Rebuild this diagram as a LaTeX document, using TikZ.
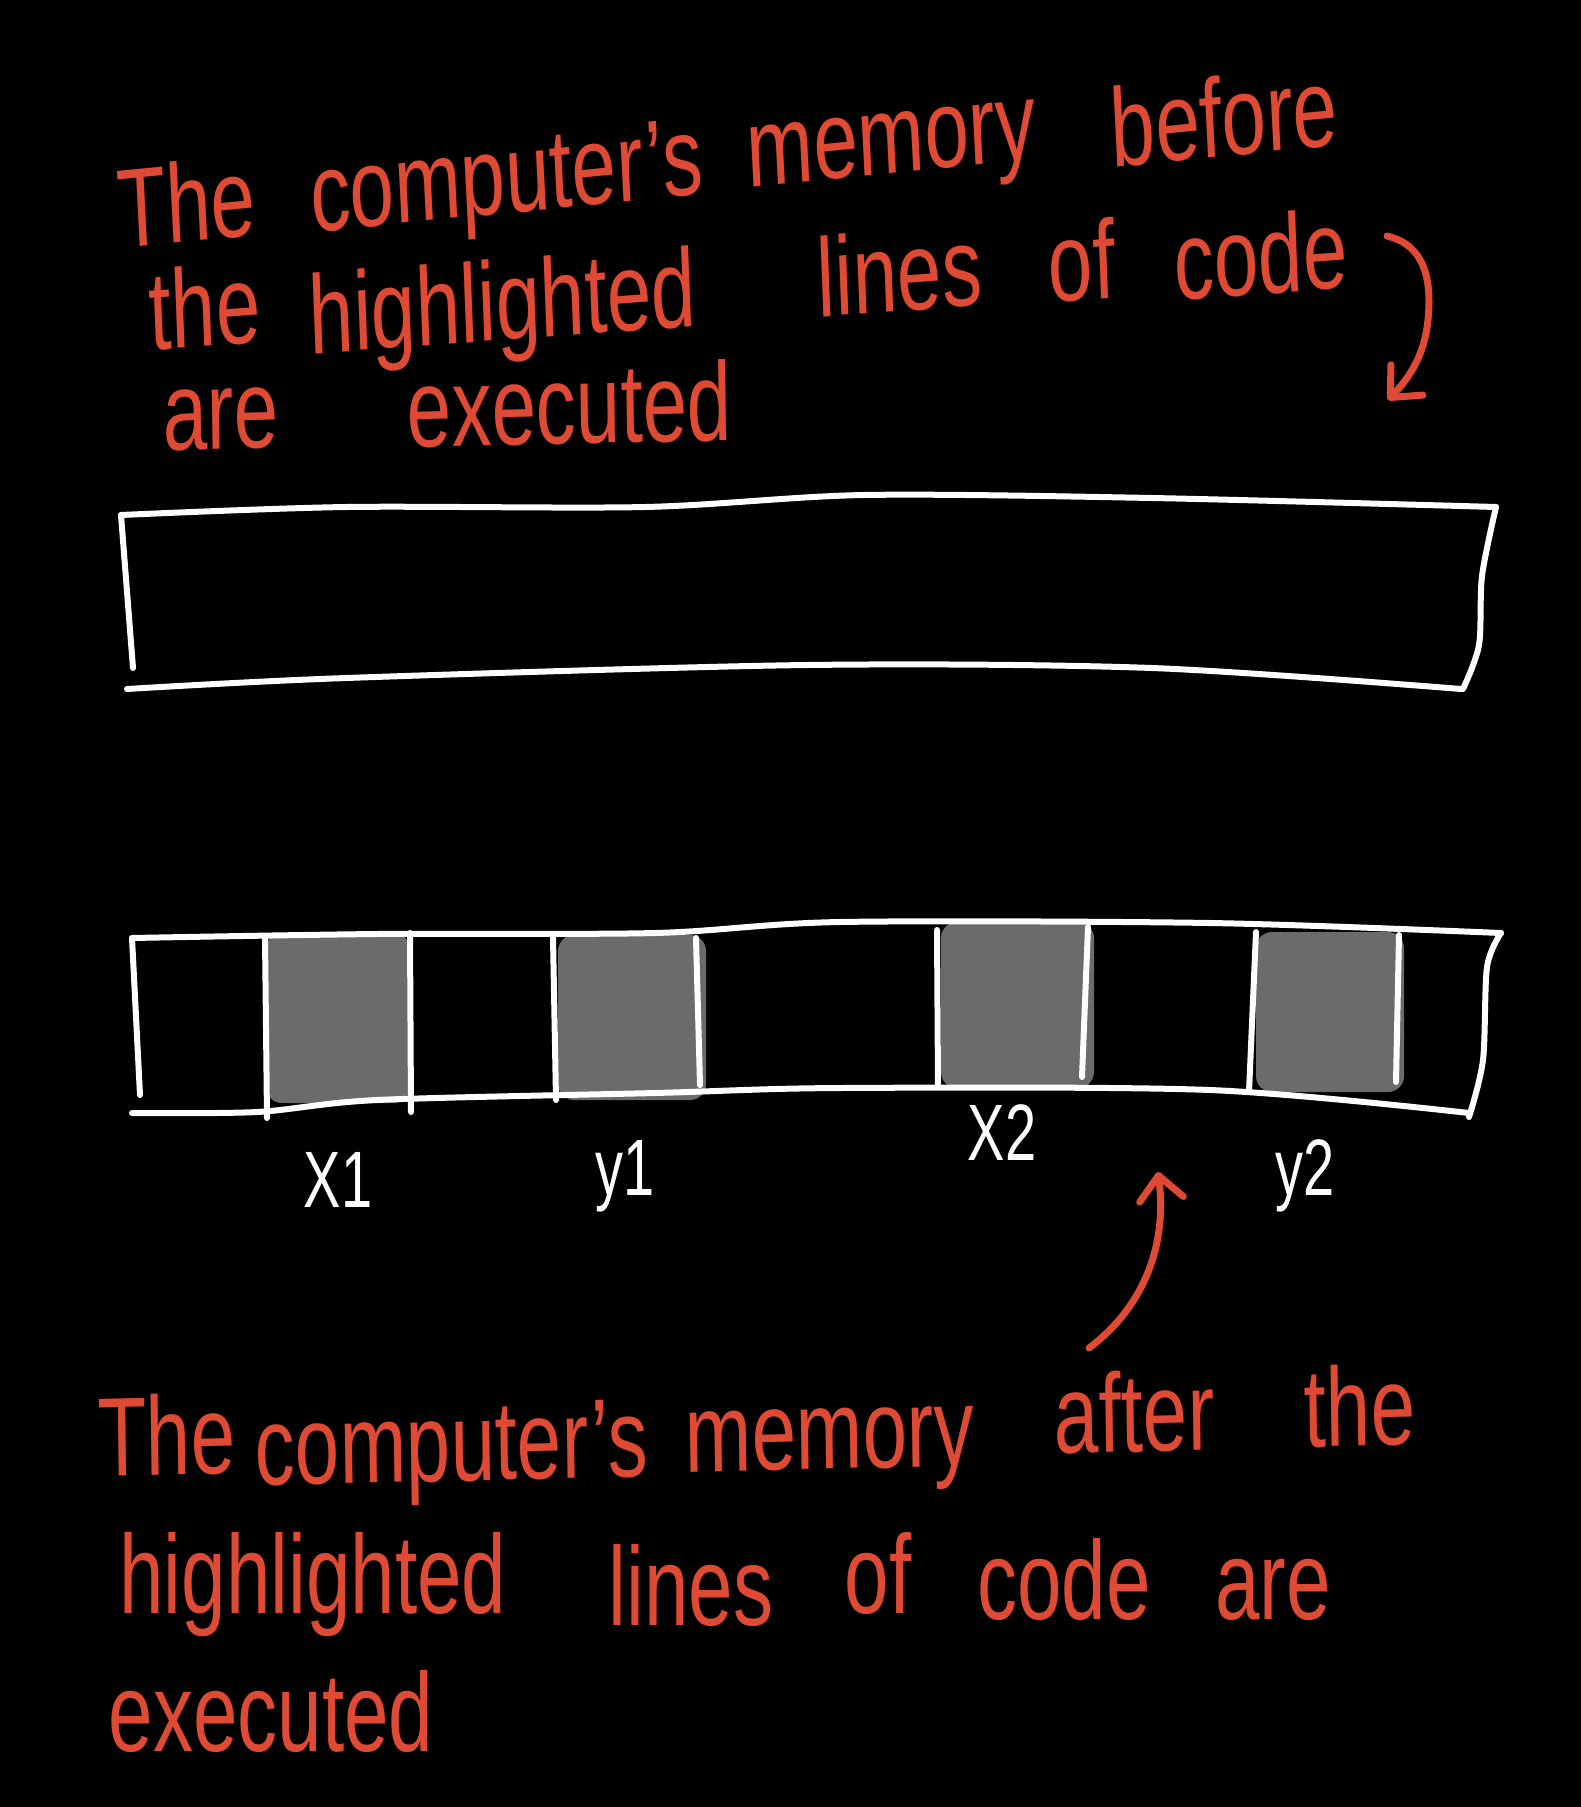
\documentclass[tikz,border=0pt]{standalone}
\usepackage{fontspec}
\setmainfont{Liberation Sans}
\usetikzlibrary{arrows.meta}
\definecolor{inkred}{RGB}{222,74,52}
\definecolor{cellgray}{RGB}{107,107,107}
\tikzset{
  word/.style={text=inkred, font=\fontsize{80}{80}\selectfont, anchor=base, inner sep=0pt, yscale=1.4},
  lbl/.style={text=white, font=\fontsize{80}{80}\selectfont, anchor=base, inner sep=0pt, xscale=0.7},
  edge/.style={white, line width=6pt, line cap=round, line join=round},
  cell/.style={fill=cellgray, rounded corners=16pt},
  redarrow/.style={inkred, line width=7pt, line cap=round,
    -{Straight Barb[length=24pt, width=44pt, line width=7pt, round]}},
}
\begin{document}
\begin{tikzpicture}[x=1pt, y=-1pt]
\fill[black] (0,0) rectangle (1581,1807);
\useasboundingbox (0,0) rectangle (1581,1807);

% ---- top text ----
\node[word, rotate=4] (t1a) at (188,242) {The};
\node[word, rotate=4] (t1b) at (508,213) {computer’s};
\node[word, rotate=4] (t1c) at (893,173) {memory};
\node[word, rotate=4] (t1d) at (1226,156) {before};
\node[word, rotate=3] (t2a) at (206,346) {the};
\node[word, rotate=3] (t2b) at (504,340) {highlighted};
\node[word, rotate=3] (t2c) at (901,311) {lines};
\node[word, rotate=3] (t2d) at (1083,300) {of};
\node[word, rotate=3] (t2e) at (1262,294) {code};
\node[word, rotate=1] (t3a) at (221,449) {are};
\node[word, rotate=1] (t3b) at (570,444) {executed};

% ---- top arrow ----
\coordinate (ta0) at (1387,236);
\coordinate (ta1) at (1388,400);
\draw[redarrow] (ta0) .. controls (1425,245) and (1432,280) .. (1428,320)
  .. controls (1424,360) and (1405,382) .. (ta1);

% ---- top (empty) memory box ----
\draw[edge] plot[smooth, tension=0.5] coordinates {(121,515) (346,507) (645,507) (864,495) (1152,498) (1496,507)};
\draw[edge] plot[smooth, tension=0.5] coordinates {(127,689) (346,678) (807,665) (1152,668) (1461,689)};
\draw[edge] (121,515) -- (133,668);
\draw[edge] plot[smooth, tension=0.5] coordinates {(1496,507) (1482,576) (1479,645) (1463,689)};

% ---- bottom memory box: gray cells ----
\fill[cell] (266,933) rectangle (410,1103);
\fill[cell] (558,935) rectangle (706,1100);
\fill[cell] (941,922) rectangle (1094,1088);
\fill[cell] (1256,932) rectangle (1404,1092);

% outline
\draw[edge] plot[smooth, tension=0.5] coordinates {(132,938) (377,934) (655,933) (840,922) (1210,923) (1501,933)};
\draw[edge] plot[smooth, tension=0.5] coordinates {(132,1113) (257,1112) (377,1100) (655,1093) (840,1088) (1210,1090) (1469,1113)};
\draw[edge] (132,938) -- (140,1095);
\draw[edge] plot[smooth, tension=0.5] coordinates {(1501,933) (1487,967) (1483,1060) (1469,1117)};
% dividers
\draw[edge] (265,937) -- (267,1118);
\draw[edge] (410,933) -- (411,1112);
\draw[edge] (553,937) -- (556,1100);
\draw[edge] (696,938) -- (700,1085);
\draw[edge] (937,930) -- (938,1087);
\draw[edge] (1088,927) -- (1082,1077);
\draw[edge] (1256,932) -- (1249,1092);
\draw[edge] (1399,935) -- (1396,1082);

% ---- labels ----
\node[lbl] (lx1) at (338,1207) {X1};
\node[lbl] (ly1) at (625,1195) {y1};
\node[lbl] (lx2) at (1002,1160) {X2};
\node[lbl] (ly2) at (1305,1195) {y2};

% ---- bottom arrow ----
\coordinate (ba0) at (1089,1348);
\coordinate (ba1) at (1158,1172);
\draw[redarrow] (ba0) .. controls (1140,1310) and (1168,1250) .. (ba1);

% ---- bottom text ----
\node[word, rotate=1] (b1a) at (167,1475) {The};
\node[word, rotate=1] (b1b) at (452,1481) {computer’s};
\node[word, rotate=1] (b1c) at (830,1469) {memory};
\node[word, rotate=1] (b1d) at (1135,1452) {after};
\node[word, rotate=1] (b1e) at (1360,1446) {the};
\node[word] (b2a) at (313,1613) {highlighted};
\node[word] (b2b) at (691,1625) {lines};
\node[word] (b2c) at (878,1613) {of};
\node[word] (b2d) at (1064,1619) {code};
\node[word] (b2e) at (1273,1619) {are};
\node[word] (b3a) at (271,1751) {executed};
\end{tikzpicture}
\end{document}
